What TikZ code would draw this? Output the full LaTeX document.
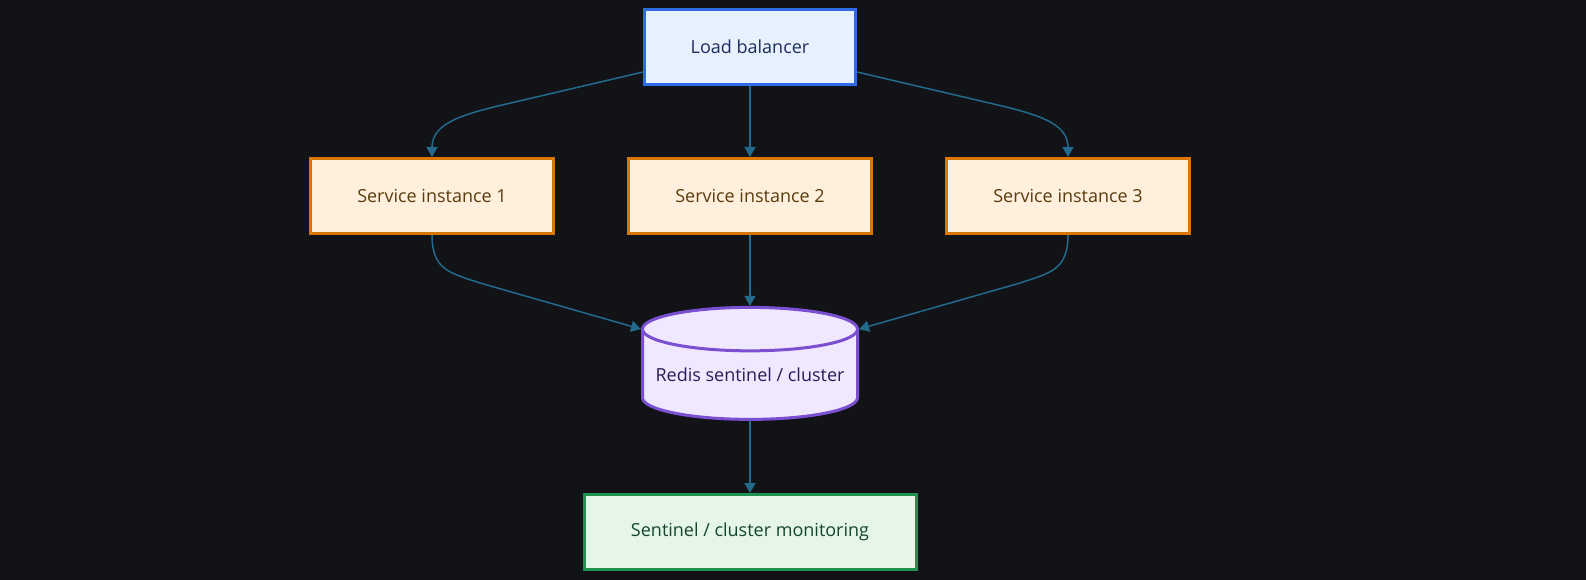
\documentclass[tikz,border=0pt]{standalone}
\usepackage{fontspec}
\setmainfont{Open Sans}
\usetikzlibrary{arrows.meta}
\usetikzlibrary{shapes.geometric}
\definecolor{bgdark}{HTML}{111316}
\definecolor{linkblue}{HTML}{236A8C}
\definecolor{lbblue}{HTML}{2F6BE6}
\definecolor{lbfill}{HTML}{E6F0FF}
\definecolor{lbtext}{HTML}{1C2D58}
\definecolor{svcorange}{HTML}{D97706}
\definecolor{svcfill}{HTML}{FFF0DE}
\definecolor{svctext}{HTML}{5B3B0C}
\definecolor{dbpurple}{HTML}{7B4FD2}
\definecolor{dbfill}{HTML}{F0E8FE}
\definecolor{dbtext}{HTML}{2C1B56}
\definecolor{mongreen}{HTML}{1F9152}
\definecolor{monfill}{HTML}{E5F5E8}
\definecolor{montext}{HTML}{16462C}

\tikzset{
  box/.style={draw, line width=3pt, minimum height=75pt, inner sep=0pt,
    font=\fontsize{18}{21}\selectfont},
  lbbox/.style={box, draw=lbblue, fill=lbfill, text=lbtext, minimum width=211pt},
  svcbox/.style={box, draw=svcorange, fill=svcfill, text=svctext, minimum width=243pt},
  monbox/.style={box, draw=mongreen, fill=monfill, text=montext, minimum width=332pt},
  dbnode/.style={shape=cylinder, shape border rotate=90, aspect=0.23,
    draw=dbpurple, fill=dbfill, text=dbtext, line width=3pt,
    minimum width=215pt, minimum height=112pt, inner sep=0pt,
    font=\fontsize{18}{21}\selectfont},
  link/.style={draw=linkblue, line width=1.5pt, -{Triangle[length=10pt,width=11pt]}}
}

\begin{document}
\begin{tikzpicture}[x=1pt, y=1pt]
\fill[bgdark] (0,0) rectangle (1586,-580);
\useasboundingbox (0,0) rectangle (1586,-580);

%nodes
\node[lbbox] (lb) at (750,-47) {Load balancer};
\node[svcbox] (s1) at (432,-196) {Service instance 1};
\node[svcbox] (s2) at (750,-196) {Service instance 2};
\node[svcbox] (s3) at (1068,-196) {Service instance 3};
\node[dbnode] (redis) at (750,-375) {\raisebox{-5pt}{Redis sentinel / cluster}};
\node[monbox] (mon) at (750,-532) {Sentinel / cluster monitoring};

%links
\draw[link] ([yshift=-25pt]lb.west) -- ++(-128,-30) .. controls +(-50,-11.5) and +(0,35) .. (s1.north);
\draw[link] (lb) -- (s2);
\draw[link] ([yshift=-25pt]lb.east) -- ++(128,-30) .. controls +(50,-11.5) and +(0,35) .. (s3.north);
\draw[link] (s1.south) .. controls +(0,-35) and +(-30,10) .. ++(48,-48) -- (redis.before top);
\draw[link] (s2) -- (redis);
\draw[link] (s3.south) .. controls +(0,-35) and +(30,10) .. ++(-48,-48) -- (redis.after top);
\draw[link] (redis) -- (mon);
\end{tikzpicture}
\end{document}
